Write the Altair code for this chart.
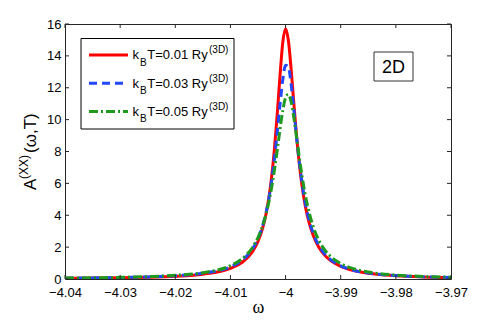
import altair as alt
import pandas as pd

# ---- data ----
omega = [-4.04, -4.035, -4.03, -4.025, -4.02, -4.015, -4.01, -4.008, -4.006, -4.005,
         -4.004, -4.0035, -4.003, -4.0025, -4.002, -4.0015, -4.001, -4.0005, -4.0,
         -3.9995, -3.999, -3.9985, -3.998, -3.9975, -3.997, -3.9965, -3.996, -3.995,
         -3.994, -3.993, -3.992, -3.99, -3.9875, -3.985, -3.98, -3.975, -3.97]

red = [0.043, 0.056, 0.077, 0.110, 0.171, 0.302, 0.663, 1.01, 1.71, 2.35,
       3.39, 4.16, 5.16, 6.50, 8.23, 10.40, 12.80, 14.86, 15.70,
       14.99, 13.20, 11.02, 8.94, 7.20, 5.81, 4.73, 3.90, 2.74,
       2.01, 1.53, 1.20, 0.789, 0.515, 0.361, 0.205, 0.132, 0.092]

blue = [0.052, 0.068, 0.092, 0.132, 0.204, 0.355, 0.765, 1.15, 1.89, 2.53,
        3.53, 4.23, 5.12, 6.23, 7.61, 9.23, 10.97, 12.52, 13.41,
        13.31, 12.25, 10.63, 8.89, 7.31, 5.99, 4.92, 4.08, 2.88,
        2.12, 1.61, 1.26, 0.825, 0.536, 0.375, 0.212, 0.136, 0.094]

green = [0.059, 0.077, 0.105, 0.149, 0.230, 0.397, 0.837, 1.24, 1.98, 2.60,
         3.51, 4.13, 4.88, 5.80, 6.88, 8.12, 9.41, 10.58, 11.38,
         11.59, 11.12, 10.14, 8.89, 7.61, 6.43, 5.41, 4.57, 3.30,
         2.45, 1.88, 1.47, 0.970, 0.630, 0.440, 0.248, 0.159, 0.110]

temps = ["0.01", "0.03", "0.05"]
colors = ["#ff0000", "#2346ff", "#1f9a1f"]
dashes = [None, [8, 5], [9, 3, 2, 3]]

x_ticks = [-4.04, -4.03, -4.02, -4.01, -4.0, -3.99, -3.98, -3.97]
y_ticks = [0, 2, 4, 6, 8, 10, 12, 14, 16]

W, H = 386, 255
FONT = "Liberation Sans"
AX = "#262626"

xs = alt.Scale(domain=[-4.04, -3.97], nice=False, zero=False)
ys = alt.Scale(domain=[0, 16], nice=False, zero=False)

xaxis = alt.Axis(values=x_ticks, format="~g", labelExpr="replace(datum.label, '-', '\u2212')",
                 domain=False, ticks=False, tickSize=0, grid=False,
                 labelFont=FONT, labelFontSize=13, labelColor="black", labelPadding=7,
                 labelFlush=False, title="ω", titleFont="Liberation Serif", titleFontSize=18,
                 titleFontWeight="normal", titleColor="black", titleX=193, titleY=33,
                 titleBaseline="alphabetic")
yaxis = alt.Axis(values=y_ticks, format="d", domain=False, ticks=False, tickSize=0, grid=False,
                 labelFont=FONT, labelFontSize=13, labelColor="black", labelPadding=4,
                 labelFlush=False, title="")

layers = []
for i, vals in enumerate([red, blue, green]):
    d = pd.DataFrame({"omega": omega, "A": vals})
    kw = dict(color=colors[i], strokeWidth=3, interpolate="monotone", clip=True)
    if dashes[i] is not None:
        kw["strokeDash"] = dashes[i]
    layers.append(alt.Chart(d).mark_line(**kw).encode(
        x=alt.X("omega:Q", scale=xs, axis=xaxis),
        y=alt.Y("A:Q", scale=ys, axis=yaxis)))

# inward ticks on all four sides
xt = pd.DataFrame({"omega": x_ticks})
yt = pd.DataFrame({"A": y_ticks})
for (a, b) in [(H, H - 4), (0, 4)]:
    layers.append(alt.Chart(xt).mark_rule(color=AX, strokeWidth=1).encode(
        x=alt.X("omega:Q", scale=xs, axis=xaxis), y=alt.value(a), y2=alt.value(b)))
for (a, b) in [(0, 4), (W, W - 4)]:
    layers.append(alt.Chart(yt).mark_rule(color=AX, strokeWidth=1).encode(
        y=alt.Y("A:Q", scale=ys, axis=yaxis), x=alt.value(a), x2=alt.value(b)))

one = pd.DataFrame({"k": [0]})


def txt(s, x, y, size, angle=0, align="left", font=FONT):
    kw = dict(text=s, fontSize=size, font=font, baseline="alphabetic", align=align, color="black")
    if angle:
        kw["angle"] = angle
    return alt.Chart(one).mark_text(**kw).encode(x=alt.value(x), y=alt.value(y))


# legend
layers.append(alt.Chart(one).mark_rect(fill="white", stroke="black", strokeWidth=1).encode(
    x=alt.value(16), x2=alt.value(169), y=alt.value(14.5), y2=alt.value(105)))
for i, t in enumerate(temps):
    yy = 31 + i * 28.3
    kw = dict(color=colors[i], strokeWidth=3)
    if dashes[i] is not None:
        kw["strokeDash"] = dashes[i]
    layers.append(alt.Chart(one).mark_rule(**kw).encode(
        x=alt.value(24), x2=alt.value(63), y=alt.value(yy)))
    base = 35.3 + i * 28.3
    layers.append(txt("k", 67.5, base, 13))
    layers.append(txt("B", 75, base + 6.4, 10))
    layers.append(txt("T=" + t + " Ry", 82.3, base, 13))
    layers.append(txt("(3D)", 144, base - 6, 10))

# "2D" box
layers.append(alt.Chart(one).mark_rect(fill="white", stroke="#333333", strokeWidth=1).encode(
    x=alt.value(309), x2=alt.value(348), y=alt.value(28), y2=alt.value(57)))
layers.append(txt("2D", 328.5, 49.3, 18, align="center"))

# y title  A^(XX)(ω,T)
layers.append(txt("A", -29.5, 166, 17, angle=270))
layers.append(txt("(XX)", -37, 155, 12, angle=270))
layers.append(txt("(ω,T)", -29.5, 129, 17, angle=270))

chart = alt.layer(*layers).properties(
    width=W, height=H,
    autosize=alt.AutoSizeParams(type="none"),
    padding={"left": 57, "top": 16, "right": 39, "bottom": 40},
).configure_view(stroke=AX, strokeWidth=1)

chart.save("out.html", embed_options={"renderer": "svg", "actions": False})
